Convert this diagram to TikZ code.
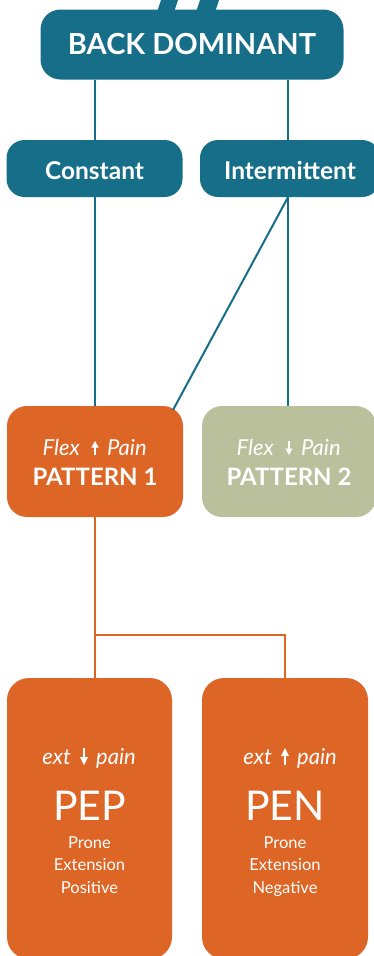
\documentclass[tikz,border=0pt]{standalone}
\usepackage{fontspec}
\setmainfont{Lato}
\definecolor{teal}{RGB}{23,110,136}
\definecolor{orng}{RGB}{221,102,39}
\definecolor{sage}{RGB}{186,192,156}
\tikzset{
  box/.style={rounded corners=20pt, draw=none, inner sep=0pt},
  tealline/.style={draw=teal, line width=2pt},
  orline/.style={draw=orng, line width=2pt},
  txt/.style={text=white, inner sep=0pt, anchor=base},
  boldtxt/.style={txt, font=\bfseries\fontsize{24.5}{28}\selectfont},
  ittxt/.style={txt, font=\itshape\fontsize{22}{26}\selectfont},
  smalltxt/.style={txt, font=\fontsize{16.5}{20}\selectfont},
  bigtxt/.style={txt, font=\fontsize{41}{48}\selectfont},
}
\begin{document}
\begin{tikzpicture}[x=1pt,y=-1pt]
\useasboundingbox (0,0) rectangle (373,956);
% slashes
\fill[teal] (157,12) -- (161,0) -- (178,0) -- (174,12) -- cycle;
\fill[teal] (196,12) -- (200,0) -- (219,0) -- (215,12) -- cycle;
% boxes
\node[box, fill=teal, minimum width=303pt, minimum height=70pt] (bd) at (192,44.5) {};
\node[box, fill=teal, minimum width=176pt, minimum height=57pt, rounded corners=18pt] (con) at (94.5,168.5) {};
\node[box, fill=teal, minimum width=180pt, minimum height=57pt, rounded corners=18pt] (int) at (290,168.5) {};
\node[box, fill=orng, minimum width=176pt, minimum height=111pt] (p1) at (95,461.5) {};
\node[box, fill=sage, minimum width=174pt, minimum height=111pt] (p2) at (289,461.5) {};
\node[box, fill=orng, minimum width=165pt, minimum height=281pt, rounded corners=22pt] (pep) at (89.5,818.5) {};
\node[box, fill=orng, minimum width=166pt, minimum height=281pt, rounded corners=22pt] (pen) at (285,818.5) {};
% connector coordinates
\coordinate (c1) at (95,0);
\coordinate (c2) at (288,0);
\coordinate (c3) at (285,0);
\coordinate (j) at (95,635);
\coordinate (p1c) at (173,410);
% connectors
\draw[tealline] (bd.south -| c1) -- (con.north -| c1);
\draw[tealline] (bd.south -| c2) -- (int.north -| c2);
\draw[tealline] (con.south -| c1) -- (p1.north -| c1);
\draw[tealline] (int.south -| c2) -- (p2.north -| c2);
\draw[tealline] (int.south -| c2) -- (p1c);
\draw[orline] (p1.south -| c1) -- (pep.north -| c1);
\draw[orline] (j) -- (j -| c3) -- (pen.north -| c3);
% main texts
\node[txt, font=\bfseries\fontsize{29}{34}\selectfont] (tbd) at (192,54.5) {BACK DOMINANT};
\node[boldtxt] (tcon) at (94.5,179) {Constant};
\node[boldtxt] (tint) at (290,179) {Intermittent};
\node[boldtxt, font=\bfseries\fontsize{24}{28}\selectfont] (t1) at (95,485) {PATTERN 1};
\node[boldtxt, font=\bfseries\fontsize{24}{28}\selectfont] (t2) at (289,485) {PATTERN 2};
% Flex / Pain lines
\node[ittxt, anchor=base east] (f1a) at (80,455) {Flex};
\node[ittxt, anchor=base west] (f1b) at (107,455) {Pain};
\node[ittxt, anchor=base east] (f2a) at (274,455) {Flex};
\node[ittxt, anchor=base west] (f2b) at (301,455) {Pain};
% ext / pain lines
\node[ittxt, anchor=base east] (e1a) at (71,764) {ext};
\node[ittxt, anchor=base west] (e1b) at (96,764) {pain};
\node[ittxt, anchor=base east] (e2a) at (272,764) {ext};
\node[ittxt, anchor=base west] (e2b) at (297,764) {pain};
% arrows (up / down)
\begin{scope}[white]
  % up arrow in pattern 1
  \draw[line width=2.4pt] (95,455) -- (95,446);
  \fill (91.3,447.5) -- (95,441) -- (98.7,447.5) -- cycle;
  % down arrow in pattern 2
  \draw[line width=2.4pt] (289,441) -- (289,450);
  \fill (285.3,448.5) -- (289,455) -- (292.7,448.5) -- cycle;
  % down arrow in PEP
  \draw[line width=2.6pt] (84,748) -- (84,758);
  \fill (80,757) -- (84,765) -- (88,757) -- cycle;
  % up arrow in PEN
  \draw[line width=2.6pt] (285,765) -- (285,755);
  \fill (281,756) -- (285,748) -- (289,756) -- cycle;
\end{scope}
% PEP / PEN
\node[bigtxt] (pepT) at (89.5,820) {PEP};
\node[smalltxt] (pep1) at (89.5,848) {Prone};
\node[smalltxt] (pep2) at (89.5,870.5) {Extension};
\node[smalltxt] (pep3) at (89.5,893) {Positive};
\node[bigtxt] (penT) at (285,820) {PEN};
\node[smalltxt] (pen1) at (285,848) {Prone};
\node[smalltxt] (pen2) at (285,870.5) {Extension};
\node[smalltxt] (pen3) at (285,893) {Negative};
\end{tikzpicture}
\end{document}
